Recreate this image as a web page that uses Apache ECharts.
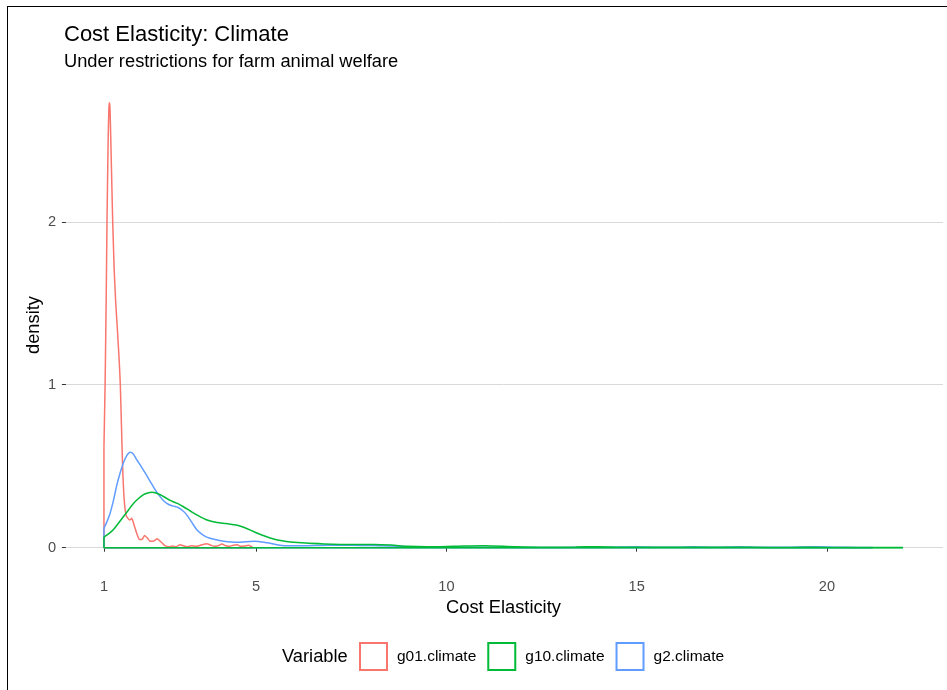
<!DOCTYPE html>
<html>
<head>
<meta charset="utf-8">
<script src="https://cdn.jsdelivr.net/npm/echarts@6/dist/echarts.min.js"></script>
<style>html,body{margin:0;padding:0;background:#fff}#c{width:947px;height:690px}</style>
</head>
<body>
<div id="c"></div>
<script>
// ---- data ----
const seriesNames = ['g01.climate', 'g10.climate', 'g2.climate'];
const xTicks = [1, 5, 10, 15, 20];
const yTicks = [0, 1, 2];

const g01Climate = [
  [1.0,0.62],[1.03,1.0],[1.06,1.55],[1.08,2.0],[1.11,2.5],[1.13,2.7],[1.145,2.73],[1.16,2.69],[1.19,2.4],[1.23,2.0],
  [1.27,1.7],[1.31,1.5],[1.35,1.35],[1.4,1.15],[1.43,1.0],[1.46,0.75],[1.49,0.5],[1.53,0.3],[1.58,0.2],[1.63,0.18],
  [1.68,0.17],[1.73,0.18],[1.79,0.14],[1.86,0.09],[1.93,0.05],[2.0,0.05],[2.07,0.075],[2.14,0.06],[2.21,0.04],[2.3,0.04],
  [2.4,0.055],[2.5,0.035],[2.6,0.012],[2.7,0.006],[2.8,0.01],[2.9,0.006],[3.0,0.018],[3.1,0.01],[3.2,0.006],[3.3,0.012],
  [3.4,0.008],[3.5,0.012],[3.6,0.02],[3.7,0.024],[3.8,0.016],[3.9,0.008],[4.0,0.012],[4.1,0.022],[4.2,0.012],[4.3,0.008],
  [4.4,0.015],[4.5,0.018],[4.6,0.008],[4.7,0.01],[4.8,0.015],[4.9,0.004]
];
const g10Climate = [
  [1.0,0.065],[1.12,0.085],[1.245,0.11],[1.38,0.15],[1.51,0.19],[1.64,0.23],[1.77,0.27],[1.9,0.3],[2.04,0.325],[2.15,0.336],
  [2.26,0.34],[2.37,0.336],[2.48,0.325],[2.61,0.308],[2.74,0.29],[2.87,0.277],[3.0,0.263],[3.13,0.245],[3.27,0.225],[3.49,0.195],
  [3.71,0.17],[3.97,0.155],[4.2,0.148],[4.41,0.141],[4.55,0.135],[4.67,0.125],[4.85,0.108],[5.02,0.09],[5.24,0.07],[5.46,0.053],
  [5.68,0.042],[5.9,0.035],[6.3,0.028],[6.78,0.023],[7.2,0.02],[7.66,0.019],[8.1,0.02],[8.54,0.016],[8.98,0.008],[9.5,0.005],
  [10.2,0.008],[11.0,0.012],[11.8,0.006],[12.6,0.003],[13.4,0.004],[14.0,0.006],[14.6,0.003],[15.5,0.002],[16.5,0.002],[17.5,0.003],
  [18.5,0.001],[19.5,0.002],[20.5,0.001],[22.0,0.001]
];
const g2Climate = [
  [1.0,0.12],[1.08,0.16],[1.16,0.21],[1.25,0.29],[1.33,0.376],[1.42,0.455],[1.51,0.52],[1.6,0.565],[1.69,0.585],[1.77,0.575],
  [1.86,0.54],[2.0,0.49],[2.13,0.44],[2.27,0.385],[2.42,0.33],[2.56,0.29],[2.7,0.265],[2.83,0.255],[2.96,0.245],[3.08,0.225],
  [3.18,0.2],[3.31,0.155],[3.44,0.11],[3.57,0.083],[3.7,0.065],[3.92,0.05],[4.14,0.04],[4.5,0.033],[4.94,0.04],[5.3,0.03],
  [5.73,0.012],[6.2,0.012],[6.9,0.015],[7.5,0.015],[8.0,0.013],[8.5,0.01],[9.0,0.006],[9.5,0.003],[10.5,0.002],[11.5,0.002],
  [12.5,0.001],[13.5,0.002],[14.5,0.004],[15.0,0.006],[15.5,0.003],[16.1,0.002],[16.5,0.005],[17.0,0.002],[17.7,0.006],[18.3,0.002],
  [19.0,0.003],[19.7,0.005],[20.5,0.002],[21.2,0.001]
];
const colors = ['#F8766D', '#00BA38', '#619CFF'];

// ---- build ----
const FONT = '"Liberation Sans", Arial, Helvetica, sans-serif';
function outline(d) {
  const a = d[0], b = d[d.length - 1];
  return [[a[0], a[1]], [a[0], 0], [b[0], 0], [b[0], b[1]]];
}
function curveSeries(name, data, color, smooth) {
  return [
    { name, type: 'line', data: outline(data), showSymbol: false, symbol: 'none', smooth: false,
      lineStyle: { color, width: 1.5 }, itemStyle: { color }, silent: true, z: 2 },
    { name, type: 'line', data, showSymbol: false, symbol: 'none', smooth,
      lineStyle: { color, width: 1.5 }, itemStyle: { color }, silent: true, z: 2 }
  ];
}
const chart = echarts.init(document.getElementById('c'));
chart.setOption({
  backgroundColor: '#fff',
  animation: false,
  title: [
    { text: 'Cost Elasticity: Climate', left: 64, top: 24, padding: 0,
      textStyle: { fontFamily: FONT, fontSize: 22, fontWeight: 'normal', color: '#000' } },
    { text: 'Under restrictions for farm animal welfare', left: 64, top: 53, padding: 0,
      textStyle: { fontFamily: FONT, fontSize: 18.3, fontWeight: 'normal', color: '#000' } }
  ],
  grid: { left: 64, right: 4, top: 80, bottom: 120, containLabel: false },
  xAxis: {
    type: 'value', min: -0.05, max: 23.05,
    name: 'Cost Elasticity', nameLocation: 'middle', nameGap: 25,
    nameTextStyle: { fontFamily: FONT, fontSize: 18.3, color: '#000' },
    axisLine: { show: false },
    axisTick: { show: true, length: 4, customValues: xTicks, lineStyle: { color: '#333', width: 1 } },
    axisLabel: { customValues: xTicks, margin: 9, fontFamily: FONT, fontSize: 14.6, color: '#4D4D4D' },
    splitLine: { show: false }
  },
  yAxis: {
    type: 'value', min: -0.137, max: 2.87,
    name: 'density', nameLocation: 'middle', nameGap: 21, nameRotate: 90, nameMoveOverlap: false,
    nameTextStyle: { fontFamily: FONT, fontSize: 18.3, color: '#000' },
    axisLine: { show: false },
    axisTick: { show: true, length: 4, customValues: yTicks, lineStyle: { color: '#333', width: 1 } },
    axisLabel: { customValues: yTicks, margin: 8, fontFamily: FONT, fontSize: 14.6, color: '#4D4D4D' },
    splitLine: { show: true, lineStyle: { color: '#D9D9D9', width: 1 } }
  },
  legend: {
    left: 359, top: 642, orient: 'horizontal', padding: 0,
    itemWidth: 27, itemHeight: 27, itemGap: 11,
    textStyle: { fontFamily: FONT, fontSize: 15.5, color: '#000', padding: [0, 0, 0, 5] },
    data: seriesNames.map((n, i) => ({ name: n, icon: 'rect',
      itemStyle: { color: '#fff', borderColor: colors[i], borderWidth: 2 } })),
    selectedMode: false
  },
  graphic: [
    { type: 'text', left: 282, top: 648,
      style: { text: 'Variable', fontFamily: FONT, fontSize: 18.3, fill: '#000' } },
    { type: 'line', shape: { x1: 7.5, y1: 6, x2: 7.5, y2: 690 }, style: { stroke: '#000', lineWidth: 1 } },
    { type: 'line', shape: { x1: 7, y1: 6.5, x2: 947, y2: 6.5 }, style: { stroke: '#000', lineWidth: 1 } }
  ],
  series: [
    ...curveSeries('g01.climate', g01Climate, colors[0], 0.15),
    ...curveSeries('g2.climate', g2Climate, colors[2], 0.3),
    ...curveSeries('g10.climate', g10Climate, colors[1], 0.3)
  ]
});
</script>
</body>
</html>
